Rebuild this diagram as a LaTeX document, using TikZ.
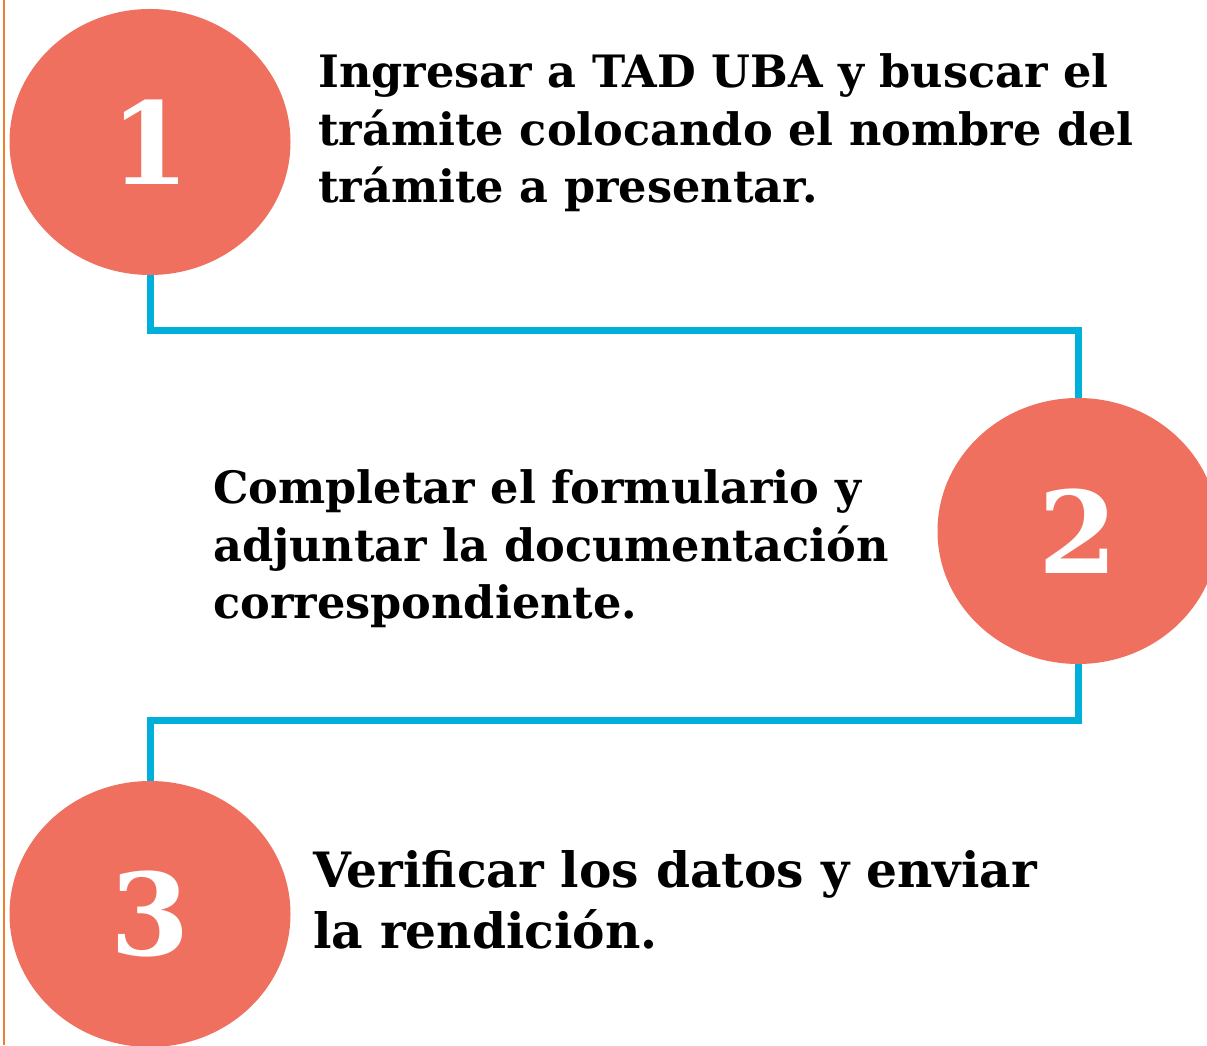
\documentclass[tikz,border=0pt]{standalone}
\usepackage{fontspec}
\setmainfont{DejaVu Serif}
\usetikzlibrary{shapes.geometric}
\definecolor{salmon}{RGB}{239,112,94}
\definecolor{cyanline}{RGB}{0,176,218}
\definecolor{orangeline}{RGB}{240,128,48}
\tikzset{
	stepdot/.style={ellipse, fill=salmon, minimum width=281pt, minimum height=266pt, inner sep=0pt, text=white, font=\fontsize{114}{114}\selectfont\bfseries},
	steptext/.style={align=left, inner sep=0pt, anchor=base west, font=\fontsize{44.6}{57.5}\selectfont\bfseries},
	link/.style={cyanline, line width=7pt}
}

\begin{document}
\begin{tikzpicture}[x=1pt, y=1pt]
			%%%%% START %%%%%
			\useasboundingbox (0, 0) rectangle (1207, 1045);
			
			\draw[orangeline, line width=2pt] (3.5, 0) -- (3.5, 1045);
			
			\node[stepdot] (one) at (150, 903) {1};
			\node[stepdot] (two) at (1078, 514) {2};
			\node[stepdot] (three) at (150, 131) {3};
			
			\draw[link] (one.south) -- ++(0, -55) -| (two.north);
			\draw[link] (two.south) -- ++(0, -56) -| (three.north);
			
			% base anchor sits on the last line
			\node[steptext] (txtone) at (318, 842) {Ingresar a TAD UBA y buscar el\\trámite colocando el nombre del\\trámite a presentar.};
			\node[steptext] (txttwo) at (213, 426) {Completar el formulario y\\adjuntar la documentación\\correspondiente.};
			\node[steptext, font=\fontsize{48.7}{61}\selectfont\bfseries] (txtthree) at (313, 97) {Verificar los datos y enviar\\la rendición.};
			
			%%%%% END %%%%%
\end{tikzpicture}
\end{document}
